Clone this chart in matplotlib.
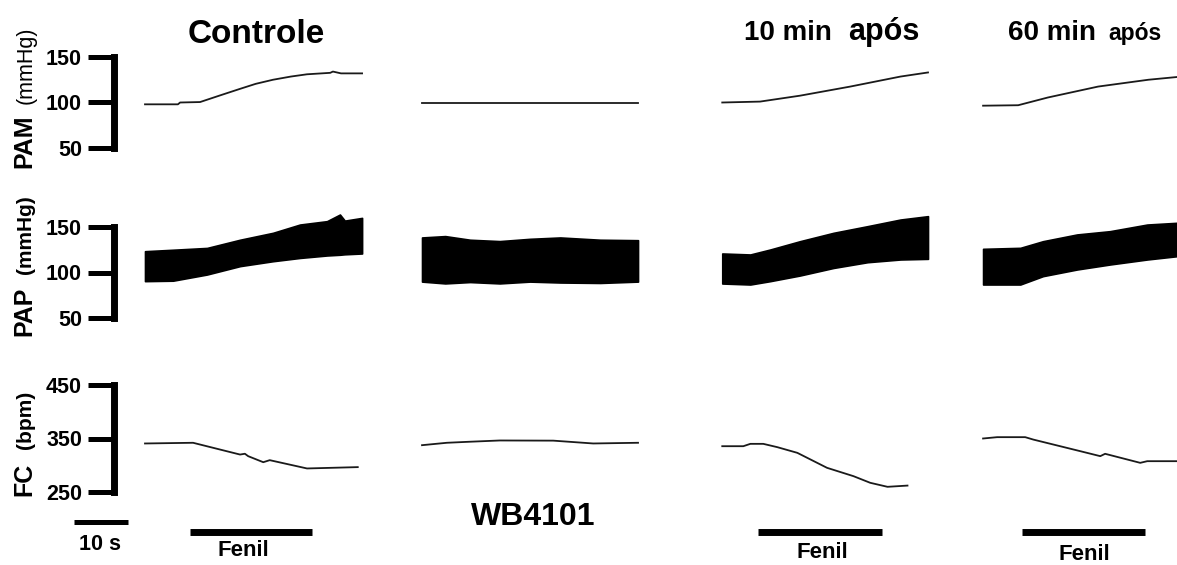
import matplotlib
matplotlib.use("Agg")
import matplotlib.pyplot as plt
import numpy as np

plt.rcParams['font.family'] = ['Liberation Sans', 'DejaVu Sans']

W, H = 1177, 565
DPI = 100

# ---------------- data (time in s from start of each recording) -------------
col_titles = ["Controle", "WB4101", "10 min após", "60 min após"]

pam_t1 = [0, 6.1, 6.5, 10.2, 14, 17.6, 20.5, 23.7, 27, 30, 34.3, 34.8, 36.3, 40.2]
pam_v1 = [98, 98, 100, 100.5, 108, 115, 120.5, 125, 128.5, 131, 132.6, 134, 132, 132]
pam_t2 = [0, 40]
pam_v2 = [99, 99]
pam_t3 = [0, 7, 14.4, 23.7, 33, 38.1]
pam_v3 = [100, 101, 107.5, 117.5, 128.5, 133]
pam_t4 = [0, 6.5, 12, 21.3, 30.6, 35.9]
pam_v4 = [96.5, 97, 105.5, 117.5, 125, 128]

pap_t1 = [0, 5.2, 11.5, 17.6, 23.7, 28.7, 33.7, 36.1, 37, 40.2]
pap_hi1 = [123.4, 125, 127, 136, 143.6, 152.7, 156.4, 163.7, 157, 160]
pap_lo1 = [90.5, 91, 97.8, 107, 112.4, 116, 118.7, 119.5, 120, 120.9]
pap_t2 = [0, 4.3, 8.9, 14.4, 20, 25.6, 33, 40]
pap_hi2 = [138.5, 140, 136, 134.5, 137, 138.5, 136, 135.5]
pap_lo2 = [90, 88, 89.5, 88, 90, 89, 88.5, 90]
pap_t3 = [0, 5.2, 8.9, 14.4, 20.6, 26.9, 33, 38.1]
pap_hi3 = [120.9, 119.8, 125.3, 134.4, 143.6, 150.9, 158.2, 161.9]
pap_lo3 = [87.9, 86.8, 90.5, 96.7, 105, 111.3, 114.3, 115]
pap_t4 = [0, 6.9, 11.1, 17.4, 23.5, 30.4, 35.9]
pap_hi4 = [126, 127.1, 134.4, 141.8, 145.4, 152.7, 154.6]
pap_lo4 = [86.8, 86.8, 96, 103.3, 108.8, 114.3, 117.9]

fc_t1 = [0, 8.9, 17.6, 18.5, 19.1, 21.9, 23.1, 30, 39.4]
fc_v1 = [340.7, 342, 320, 321.5, 317, 305.7, 309.5, 294, 296.5]
fc_t2 = [0, 4.6, 8.5, 14.4, 24.3, 31.7, 40]
fc_v2 = [337.5, 342, 343.8, 346.3, 346, 340.7, 342]
fc_t3 = [0, 3.9, 5.2, 7.6, 10.2, 13.9, 19.4, 24.3, 27.4, 30.6, 34.3]
fc_v3 = [335.6, 335.6, 340, 340, 333.8, 323.2, 295.2, 279.6, 267.2, 259.7, 262]
fc_t4 = [0, 2.6, 7.8, 9.3, 18, 21.7, 22.6, 29.1, 30.4, 35.9]
fc_v4 = [350, 352.5, 352.5, 348, 326.3, 317, 321.4, 304.5, 307.6, 307.6]

fenil_start = [8.3, None, 6.7, 7.2]
fenil_end = [30.9, None, 29.6, 30.0]
scale_bar_s = 10

pam_ticks = [50, 100, 150]
pap_ticks = [50, 100, 150]
fc_ticks = [250, 350, 450]

# ---------------- layout ----------------------------------------------------
col_offset = [0, 51.3, 106.9, 155.2]      # s, start of each recording
PX_PER_S = 5.4
X0_PX = 145
xlim = (-X0_PX / PX_PER_S, (W - X0_PX) / PX_PER_S)
SPINE_T = (114 - X0_PX) / PX_PER_S
BAR_T0 = (74 - X0_PX) / PX_PER_S

fig = plt.figure(figsize=(W / DPI, H / DPI), dpi=DPI)


def px(x, y):
    return x / W, 1 - y / H


def row_axes(v_hi, p_hi, v_lo, p_lo, ylim):
    s = (p_lo - p_hi) / (v_hi - v_lo)
    top = p_hi - (ylim[1] - v_hi) * s
    bot = p_lo + (v_lo - ylim[0]) * s
    ax = fig.add_axes([0, 1 - bot / H, 1, (bot - top) / H])
    ax.set_xlim(*xlim)
    ax.set_ylim(*ylim)
    ax.patch.set_alpha(0)
    for k in ['top', 'right', 'bottom']:
        ax.spines[k].set_visible(False)
    ax.spines['left'].set_position(('data', SPINE_T))
    ax.spines['left'].set_linewidth(5)
    ax.spines['left'].set_capstyle('projecting')
    ax.set_xticks([])
    ax.tick_params(axis='y', direction='out', length=19, width=3.6, pad=4,
                   labelsize=15.5)
    return ax


ax_pam = row_axes(150, 57, 50, 148, (40, 165))
ax_pap = row_axes(150, 227, 50, 318, (40, 170))
ax_fc = row_axes(450, 385, 250, 492, (230, 470))

for ax, ticks in [(ax_pam, pam_ticks), (ax_pap, pap_ticks), (ax_fc, fc_ticks)]:
    ax.set_yticks(ticks)
    ax.set_yticklabels([str(t) for t in ticks], fontweight='bold', fontsize=15.5)
    ax.spines['left'].set_bounds(ticks[0], ticks[-1])

LC = '#1a1a1a'
pam_series = [(pam_t1, pam_v1), (pam_t2, pam_v2), (pam_t3, pam_v3), (pam_t4, pam_v4)]
pap_series = [(pap_t1, pap_hi1, pap_lo1), (pap_t2, pap_hi2, pap_lo2),
              (pap_t3, pap_hi3, pap_lo3), (pap_t4, pap_hi4, pap_lo4)]
fc_series = [(fc_t1, fc_v1), (fc_t2, fc_v2), (fc_t3, fc_v3), (fc_t4, fc_v4)]

for off, (t, v) in zip(col_offset, pam_series):
    ax_pam.plot(np.array(t) + off, v, color=LC, lw=1.3)
for off, (t, hi, lo) in zip(col_offset, pap_series):
    tt = np.array(t) + off
    ax_pap.fill_between(tt, lo, hi, color='black', lw=1.2, edgecolor='black')
for off, (t, v) in zip(col_offset, fc_series):
    ax_fc.plot(np.array(t) + off, v, color=LC, lw=1.3)

# bottom annotation axes (time bars)
ax_b = fig.add_axes([0, 0, 1, 65 / H])
ax_b.set_xlim(*xlim)
ax_b.set_ylim(0, 1)
ax_b.axis('off')
ax_b.hlines(0.66, BAR_T0, BAR_T0 + scale_bar_s, color='black', lw=3.6)
for off, s0, s1 in zip(col_offset, fenil_start, fenil_end):
    if s0 is None:
        continue
    ax_b.hlines(0.51, off + s0, off + s1, color='black', lw=5)

# ---------------- texts ------------------------------------------------------
fig.text(*px(100, 545), f"{scale_bar_s} s", ha='center', va='center',
         fontsize=15.5, fontweight='bold')
fenil_pos = [(243, 550), None, (822, 552), (1084, 555)]
for p in fenil_pos:
    if p:
        fig.text(*px(*p), "Fenil", ha='center', va='center', fontsize=16,
                 fontweight='bold')

fig.text(*px(256, 43), col_titles[0], ha='center', va='baseline',
         fontsize=24, fontweight='bold')
fig.text(*px(533, 517), col_titles[1], ha='center', va='center',
         fontsize=23, fontweight='bold')
fig.text(*px(788, 40), "10 min", ha='center', va='baseline', fontsize=20,
         fontweight='bold')
fig.text(*px(884, 40), "após", ha='center', va='baseline', fontsize=22,
         fontweight='bold')
fig.text(*px(1052, 40), "60 min", ha='center', va='baseline', fontsize=20,
         fontweight='bold')
fig.text(*px(1135, 40), "após", ha='center', va='baseline', fontsize=16.5,
         fontweight='bold')

# y labels (rotated)
ylabs = [("PAM", 141, 18, "bold", "(mmHg)", 65, 15.5, "normal"),
         ("PAP", 311, 18, "bold", "(mmHg)", 235, 15, "bold"),
         ("FC", 479, 18, "bold", "(bpm)", 420, 15, "bold")]
for a, ya, sa, wa, b, yb, sb, wb in ylabs:
    fig.text(*px(24, ya), a, rotation=90, ha='center', va='center',
             fontsize=sa, fontweight=wa)
    fig.text(*px(26, yb), b, rotation=90, ha='center', va='center',
             fontsize=sb, fontweight=wb)

fig.savefig("out.png", dpi=DPI)
